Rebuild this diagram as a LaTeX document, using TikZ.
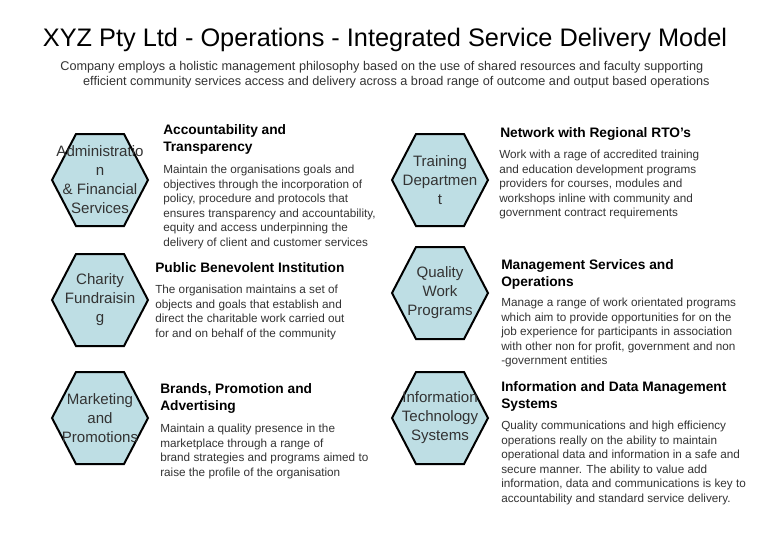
\documentclass[tikz,border=0pt]{standalone}
\usepackage{fontspec}
\setmainfont{Liberation Sans}
\begin{document}
\begin{tikzpicture}[x=0.75pt,y=-0.75pt,
  hex/.style={draw=black,line width=1.5pt,fill=hexfill},
  hext/.style={font=\fontsize{11.3}{14.3}\selectfont,text=black!80,align=center},
  head/.style={anchor=north west,font=\bfseries\fontsize{10.3}{12.6}\selectfont,align=left,inner sep=0pt},
  body/.style={anchor=north west,font=\fontsize{8.8}{10.9}\selectfont,text=black!80,align=left,inner sep=0pt}]
\definecolor{hexfill}{RGB}{190,222,228}
\useasboundingbox (0,0) rectangle (780,540);
\node (title) at (385,40) {\fontsize{19}{22}\selectfont XYZ Pty Ltd - Operations - Integrated Service Delivery Model};
\node[font=\fontsize{9.5}{11.5}\selectfont,align=left,text=black!80] (sub) at (385,75) {Company employs a holistic management philosophy based on the use of shared resources and faculty supporting\\ \hspace*{1.8em}efficient community services access and delivery across a broad range of outcome and output based operations};
\newcommand{\hexat}[4]{%
 \draw[hex] (#1-48,#2) -- (#1-24,#2-46) -- (#1+24,#2-46) -- (#1+48,#2) -- (#1+24,#2+46) -- (#1-24,#2+46) -- cycle;
 \node[hext] (#3) at (#1,#2) {#4};}
\hexat{100}{180}{h1}{Administratio\\n\\\& Financial\\Services}
\hexat{100}{300}{h2}{Charity\\Fundraisin\\g}
\hexat{100}{418}{h3}{Marketing\\and\\Promotions}
\hexat{440}{180}{h4}{Training\\Departmen\\t}
\hexat{440}{293}{h5}{Quality\\Work\\Programs}
\hexat{440}{418}{h6}{Information\\Technology\\Systems}
\node[head] (a1) at (163,124) {Accountability and\\Transparency};
\node[body] (b1) at (163,165) {Maintain the organisations goals and\\objectives through the incorporation of\\policy, procedure and protocols that\\ensures transparency and accountability,\\equity and access underpinning the\\delivery of client and customer services};
\node[head] (a2) at (155,262) {Public Benevolent Institution};
\node[body] (b2) at (155,285) {The organisation maintains a set of\\objects and goals that establish and\\direct the charitable work carried out\\for and on behalf of the community};
\node[head] (a3) at (160,383) {Brands, Promotion and\\Advertising};
\node[body] (b3) at (160,424) {Maintain a quality presence in the\\marketplace through a range of\\brand strategies and programs aimed to\\raise the profile of the organisation};
\node[head] (a4) at (500,127) {Network with Regional RTO's};
\node[body] (b4) at (499,150) {Work with a rage of accredited training\\and education development programs\\providers for courses, modules and\\workshops inline with community and\\government contract requirements};
\node[head] (a5) at (501,259) {Management Services and\\Operations};
\node[body] (b5) at (501,298) {Manage a range of work orientated programs\\which aim to provide opportunities for on the\\job experience for participants in association\\with other non for profit, government and non\\-government entities};
\node[head] (a6) at (501,381) {Information and Data Management\\Systems};
\node[body] (b6) at (501,421) {Quality communications and high efficiency\\operations really on the ability to maintain\\operational data and information in a safe and\\secure manner. The ability to value add\\information, data and communications is key to\\accountability and standard service delivery.};
\end{tikzpicture}
\end{document}
